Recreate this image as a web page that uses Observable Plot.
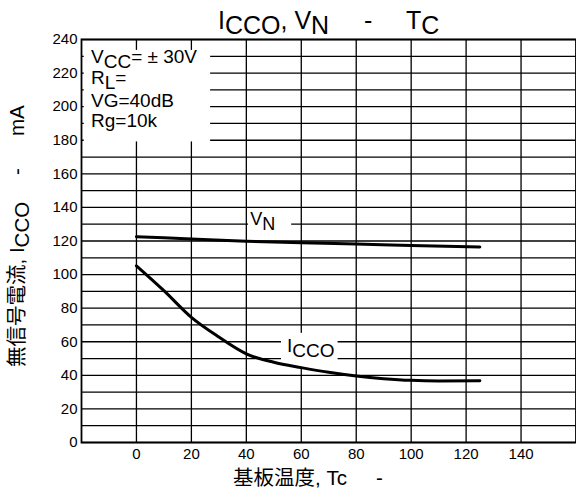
<!DOCTYPE html>
<html><head><meta charset="utf-8">
<script src="https://cdn.jsdelivr.net/npm/d3@7"></script>
<script src="https://cdn.jsdelivr.net/npm/@observablehq/plot@0.6"></script>
<style>body{margin:0;background:#fff} svg{display:block}</style>
</head><body><div id="chart"></div>
<script>
// ---- data ----
const tcIcco = [0, 10, 20, 30, 40, 50, 60, 70, 80, 90, 100, 110, 125];
const iccoValues = [105.2, 90.4, 74.5, 62.8, 52.8, 47.8, 44.6, 41.8, 39.6, 38.0, 37.0, 36.7, 36.8];
const tcVn = [0, 20, 40, 60, 80, 100, 125];
const vnValues = [122.6, 121.2, 119.8, 119.0, 118.2, 117.3, 116.4];
const xTicks = [0, 20, 40, 60, 80, 100, 120, 140];
const yTicks = [0, 20, 40, 60, 80, 100, 120, 140, 160, 180, 200, 220, 240];
const yGrid = d3.range(0, 241, 10);
const xGrid = xTicks;
// annotation boxes (data units)
const condBox = [{x1: -19, x2: 27, y1: 179, y2: 233.5}];
const labelBoxes = [{x1: 40.8, x2: 56.5, y1: 124.5, y2: 137}, {x1: 52.8, x2: 73.4, y1: 44.5, y2: 65}];
const vnLabelPos = [41.6, 129.4];
const iccoLabelPos = [55.0, 53.6];

const iccoData = tcIcco.map((t, i) => ({tc: t, v: iccoValues[i]}));
const vnData = tcVn.map((t, i) => ({tc: t, v: vnValues[i]}));

const FONT = "'Liberation Sans', Arial, 'Noto Sans CJK JP', sans-serif";

const plot = Plot.plot({
  width: 576, height: 495,
  marginLeft: 81, marginRight: 0.5, marginTop: 39, marginBottom: 53,
  x: {domain: [-20, 160]},
  y: {domain: [0, 240]},
  style: {fontFamily: FONT, fontSize: "15px", color: "#000", background: "#fff"},
  marks: [
    Plot.ruleY(yGrid, {stroke: "#000", strokeWidth: 1.3}),
    Plot.ruleX(xGrid, {stroke: "#000", strokeWidth: 1.3}),
    Plot.rect(condBox, {x1: "x1", x2: "x2", y1: "y1", y2: "y2", fill: "#fff"}),
    Plot.rect(labelBoxes, {x1: "x1", x2: "x2", y1: "y1", y2: "y2", fill: "#fff"}),
    Plot.line(vnData, {x: "tc", y: "v", stroke: "#000", strokeWidth: 3, curve: "monotone-x"}),
    Plot.line(iccoData, {x: "tc", y: "v", stroke: "#000", strokeWidth: 3, curve: "monotone-x"}),
    Plot.frame({stroke: "#000", strokeWidth: 1.8}),
    Plot.axisX(xTicks, {tickSize: 0, tickPadding: 6, label: null}),
    Plot.axisY(yTicks, {tickSize: 0, tickPadding: 4, label: null})
  ]
});
document.getElementById("chart").appendChild(plot);

const sx = plot.scale("x"), sy = plot.scale("y");
const svg = d3.select(plot);
const g = svg.append("g").attr("font-family", FONT).attr("fill", "#000").attr("text-anchor", "start");

function richText(parent, x, y, size, parts) {
  const t = parent.append("text").attr("x", x).attr("y", y).attr("font-size", size)
    .attr("text-anchor", "start").style("white-space", "pre");
  let cur = 0;
  for (const p of parts) {
    const ts = t.append("tspan").text(p.t);
    const target = p.sub ? 5 : 0;
    if (p.x != null) ts.attr("x", p.x);
    if (target !== cur) { ts.attr("dy", target - cur); cur = target; }
    if (p.size) ts.attr("font-size", p.size);
  }
  return t;
}

// title
richText(g, 218, 29, 25, [
  {t: "I"}, {t: "CCO", sub: true}, {t: ", V"}, {t: "N", sub: true},
  {t: "-", x: 364}, {t: "T", x: 406}, {t: "C", sub: true}
]);

// conditions box text
richText(g, 91, 63, 19, [{t: "V"}, {t: "CC", sub: true}, {t: "= ± 30V"}]);
richText(g, 91, 84, 19, [{t: "R"}, {t: "L", sub: true}, {t: "="}]);
richText(g, 91, 107, 19, [{t: "VG=40dB"}]);
richText(g, 91, 127, 19, [{t: "Rg=10k"}]);

// curve labels
richText(g, sx.apply(vnLabelPos[0]), sy.apply(vnLabelPos[1]), 18, [{t: "V"}, {t: "N", sub: true}]);
richText(g, sx.apply(iccoLabelPos[0]), sy.apply(iccoLabelPos[1]), 19, [{t: "I"}, {t: "CCO", sub: true}]);

// x label
richText(g, 233, 485, 20.5, [{t: "基板温度, Tc"}, {t: "-", x: 376}]);

// y label (rotated)
const gy = g.append("g").attr("transform", "translate(24,0) rotate(-90)");
richText(gy, -367, 0, 20.5, [
  {t: "無信号電流, I"}, {t: "CCO", sub: true}, {t: "-", x: -175}, {t: "mA", x: -136}
]);
</script>
</body></html>
